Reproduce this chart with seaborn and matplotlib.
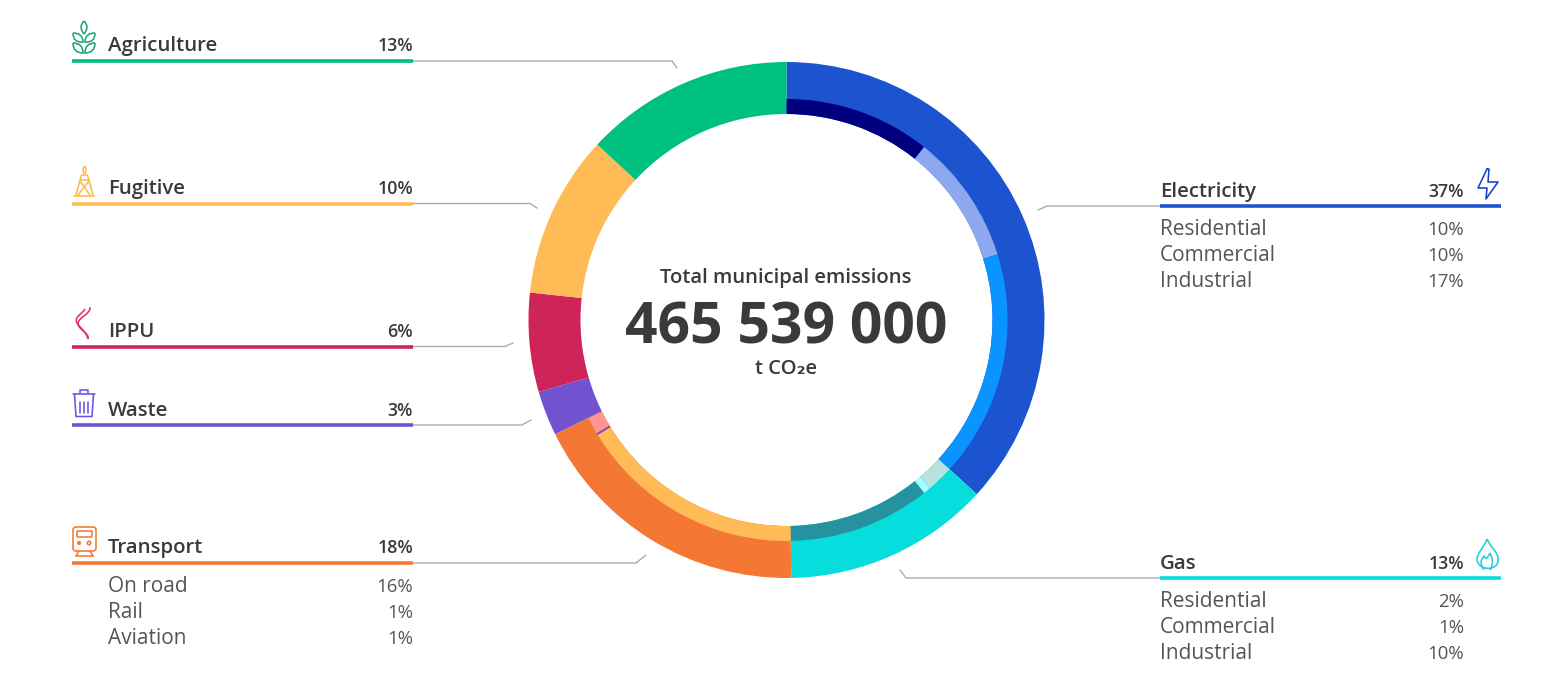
import matplotlib.pyplot as plt
import seaborn as sns
from matplotlib.patches import FancyBboxPatch, PathPatch, Circle
from matplotlib.path import Path

# share of the circle, clockwise from 12 o'clock
sector_names = ["Electricity", "Gas", "Transport", "Waste", "IPPU", "Fugitive", "Agriculture"]
sector_shares = [36.8, 12.9, 18.0, 2.8, 6.2, 10.2, 13.1]
sector_labels = ["37%", "13%", "18%", "3%", "6%", "10%", "13%"]
sector_colors = ["#1c54d0", "#05dedd", "#f47733", "#7153d0", "#cf2459", "#ffbb55", "#00c07f"]

# inner band, the last entry is left undrawn so the outer ring shows through
detail_shares = [10.7, 9.5, 16.6, 2.0, 0.5, 10.4, 16.6, 0.15, 1.2, 32.35]
detail_colors = ["#00007f", "#8ea8ef", "#0a94ff", "#b7e2e0", "#a8ffff", "#26919f",
                 "#ffbb55", "#7153d0", "#ff9494", "white"]

electricity_rows = [("Residential", "10%"), ("Commercial", "10%"), ("Industrial", "17%")]
gas_rows = [("Residential", "2%"), ("Commercial", "1%"), ("Industrial", "10%")]
transport_rows = [("On road", "16%"), ("Rail", "1%"), ("Aviation", "1%")]

total_title = "Total municipal emissions"
total_value = "465 539 000"
total_unit = "t CO₂e"

WIDTH, HEIGHT = 1548, 697
CX, CY = 786.5, 320
R_OUT, R_BAND, R_IN = 258, 221, 206
TEXT_DARK = "#3a3a3a"
TEXT_SOFT = "#555555"
LEADER = "#ababab"
ICON_LW = 1.15

sns.set_theme(style="white")
plt.rcParams["font.family"] = ["Open Sans", "DejaVu Sans"]

fig = plt.figure(figsize=(WIDTH / 100, HEIGHT / 100), dpi=100)

# ring lives in its own axes so pie() keeps its normal orientation
pad = 270
ax_ring = fig.add_axes([(CX - pad) / WIDTH, 1 - (CY + pad) / HEIGHT, 2 * pad / WIDTH, 2 * pad / HEIGHT])
ax_ring.pie(sector_shares, colors=sector_colors, radius=R_OUT, startangle=90, counterclock=False,
            normalize=True, wedgeprops={"width": R_OUT - R_IN, "linewidth": 0})
band, _ = ax_ring.pie(detail_shares, colors=detail_colors, radius=R_BAND, startangle=90, counterclock=False,
                      normalize=True, wedgeprops={"width": R_BAND - R_IN, "linewidth": 0})
band[-1].set_visible(False)
ax_ring.set_xlim(-pad, pad)
ax_ring.set_ylim(-pad, pad)
ax_ring.axis("off")

# everything else in pixel coordinates of the picture
ax = fig.add_axes([0, 0, 1, 1])
ax.set_xlim(0, WIDTH)
ax.set_ylim(HEIGHT, 0)
ax.axis("off")
ax.patch.set_alpha(0)


def header(name, pct, color, x0, x1, x_text, x_pct, y_bar, y_text):
    ax.plot([x0, x1], [y_bar, y_bar], color=color, lw=2.6, solid_capstyle="butt", zorder=3)
    ax.text(x_text, y_text, name, fontsize=14.7, fontweight="semibold", color=TEXT_DARK, va="baseline")
    ax.text(x_pct, y_text, pct, fontsize=12.8, fontweight="semibold", color=TEXT_DARK, ha="right", va="baseline")


def rows(items, x_text, x_pct, ys):
    for (name, pct), y in zip(items, ys):
        ax.text(x_text, y, name, fontsize=15, color=TEXT_SOFT, va="baseline")
        ax.text(x_pct, y, pct, fontsize=13.4, color=TEXT_SOFT, ha="right", va="baseline")


def leader(xs, ys):
    ax.plot(xs, ys, color=LEADER, lw=1.0, zorder=1, solid_joinstyle="miter")


def outline(verts, codes, color):
    ax.add_patch(PathPatch(Path(verts, codes), facecolor="none", edgecolor=color, lw=ICON_LW, zorder=4))


def strokes(segments, color):
    for xs, ys in segments:
        ax.plot(xs, ys, color=color, lw=ICON_LW, zorder=4)


C3_LOOP = [Path.MOVETO, Path.CURVE3, Path.CURVE3, Path.CURVE3, Path.CURVE3]
C4_S = [Path.MOVETO] + [Path.CURVE4] * 6

left = dict(x0=72, x1=413, x_text=108, x_pct=413)
by_name = dict(zip(sector_names, zip(sector_labels, sector_colors)))
for name, y_bar, y_text in [("Agriculture", 61, 51), ("Fugitive", 203.5, 194), ("IPPU", 346.5, 337),
                            ("Waste", 425, 416), ("Transport", 563, 553)]:
    header(name, by_name[name][0], by_name[name][1], y_bar=y_bar, y_text=y_text, **left)
right = dict(x0=1160, x1=1501, x_text=1160, x_pct=1464)
header("Electricity", by_name["Electricity"][0], by_name["Electricity"][1], y_bar=206, y_text=197, **right)
header("Gas", by_name["Gas"][0], by_name["Gas"][1], y_bar=578, y_text=569, **right)

rows(transport_rows, 108, 413, [592, 618, 644])
rows(electricity_rows, 1160, 1464, [235, 261, 287])
rows(gas_rows, 1160, 1464, [607, 633, 659])

leader([413, 672, 677], [61, 61, 68])
leader([413, 530, 537], [203.5, 203.5, 208])
leader([413, 505, 513], [346.5, 346.5, 343])
leader([413, 522, 531], [425, 425, 420])
leader([413, 636, 646], [563, 563, 555])
leader([1160, 1047, 1038], [206, 206, 210])
leader([1160, 906, 900], [578, 578, 570])

ax.text(786, 283, total_title, fontsize=14.6, fontweight="semibold", color=TEXT_DARK, ha="center", va="baseline")
ax.text(786, 344, total_value, fontsize=41, fontweight="bold", color=TEXT_DARK, ha="center", va="baseline")
ax.text(786, 374, total_unit, fontsize=14.5, fontweight="semibold", color=TEXT_DARK, ha="center", va="baseline")

# icons
c = "#1ea672"
for leaf in [[(84, 21), (78, 27), (84, 34), (90, 27), (84, 21)],
             [(73, 33), (73, 43), (83, 42), (83, 33), (73, 33)],
             [(95, 33), (95, 43), (85, 42), (85, 33), (95, 33)],
             [(73, 43), (73, 53), (83, 53), (83, 43), (73, 43)],
             [(95, 43), (95, 53), (85, 53), (85, 43), (95, 43)]]:
    outline(leaf, C3_LOOP, c)

c = "#ffb84d"
outline([(84.5, 166), (81.5, 170), (84.5, 173.5), (87.5, 170), (84.5, 166)], C3_LOOP, c)
strokes([([74, 94], [195.5, 195.5]), ([76, 81.5, 87.5, 93], [195, 175, 175, 195]),
         ([80, 89], [180, 180]), ([80, 90], [181, 195]), ([89, 78], [181, 195])], c)

c = "#e0325f"
outline([(90, 307), (91, 314), (79, 317), (78, 323), (77, 329), (90, 333), (88, 339)], C4_S, c)
outline([(85, 309), (81, 315), (74, 317), (77, 323), (79, 327), (86, 331), (88, 339)], C4_S, c)

c = "#6a52e0"
strokes([([73, 95], [393.5, 393.5]), ([74.5, 76, 92, 93.5], [394, 416.5, 416.5, 394]),
         ([80, 80, 88, 88], [393, 389.5, 389.5, 393]),
         ([80, 80], [402, 413]), ([84, 84], [402, 413]), ([88, 88], [402, 413])], c)

c = "#f47733"
ax.add_patch(FancyBboxPatch((73, 527), 23, 24, boxstyle="round,pad=0,rounding_size=3", fc="none", ec=c, lw=ICON_LW, zorder=4))
ax.add_patch(FancyBboxPatch((77, 531), 15, 6, boxstyle="round,pad=0,rounding_size=1", fc="none", ec=c, lw=ICON_LW, zorder=4))
ax.add_patch(Circle((79, 543), 1.7, fc=c, ec=c, lw=0.5, zorder=4))
ax.add_patch(Circle((89, 543), 1.7, fc="none", ec=c, lw=ICON_LW, zorder=4))
strokes([([79, 76], [551, 556]), ([90, 93], [551, 556]), ([76, 93], [556, 556])], c)

strokes([([1487, 1478, 1487, 1486, 1498, 1488, 1489, 1487], [169, 188, 188, 199, 182, 182, 169, 169])], "#1c3fd0")

c = "#1fd0dc"
outline([(1487, 539), (1492, 550), (1499, 552), (1498, 561), (1497, 571), (1479, 571), (1477, 560),
         (1477, 553), (1483, 549), (1487, 539)],
        [Path.MOVETO] + [Path.CURVE4] * 9, c)
outline([(1484, 570), (1478, 562), (1484, 556), (1486, 562), (1490, 553), (1495, 562), (1490, 570)],
        [Path.MOVETO] + [Path.CURVE3] * 6, c)

fig.savefig("out.png", dpi=100, facecolor="white")
plt.close(fig)
